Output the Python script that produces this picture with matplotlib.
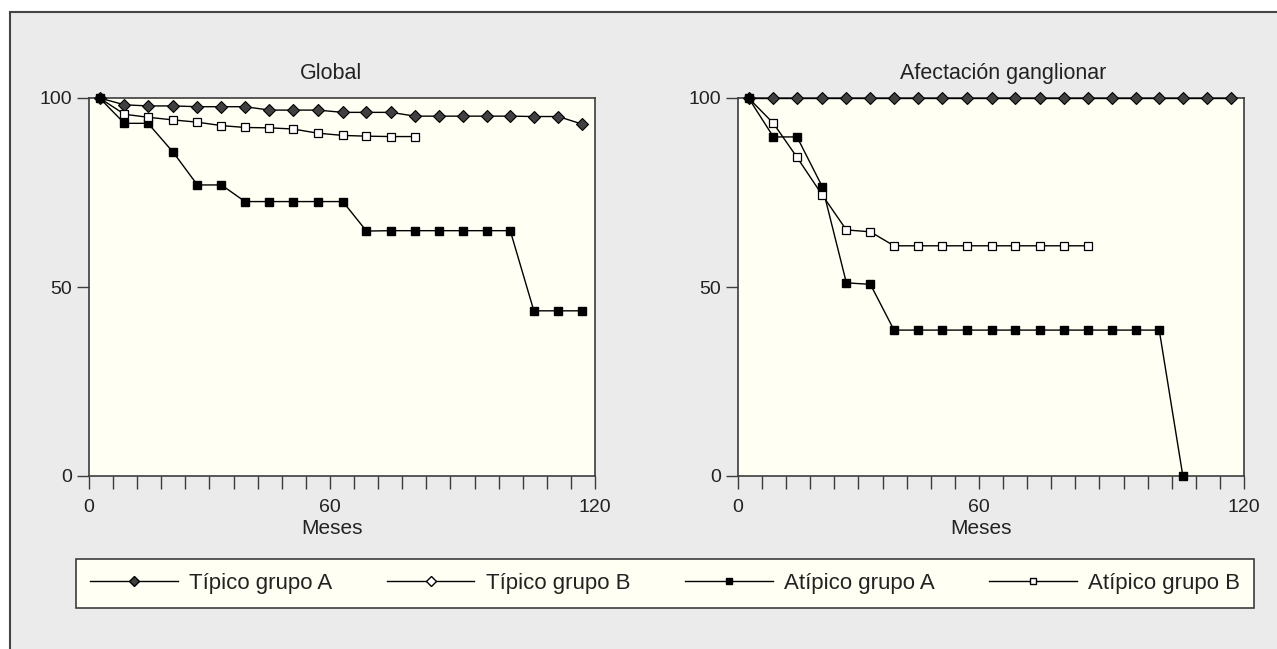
import numpy as np
import matplotlib.pyplot as plt
from matplotlib.lines import Line2D
from matplotlib.patches import Rectangle

plt.rcParams['font.family'] = ['Liberation Sans', 'DejaVu Sans']
plt.rcParams['font.size'] = 14

# meses de cada punto
meses = [2.5, 8.4, 14.0, 20.0, 25.7, 31.4, 37.0, 42.8, 48.4, 54.2, 60.2,
         65.8, 71.6, 77.3, 83.0, 88.6, 94.3, 99.9, 105.5, 111.3, 116.9]

# Global
global_tip_a = [100, 98.2, 97.9, 97.9, 97.7, 97.7, 97.7, 96.8, 96.8, 96.8, 96.2,
                96.2, 96.2, 95.2, 95.2, 95.2, 95.2, 95.2, 95.1, 95.1, 93.1]
global_tip_b = []
global_atip_a = [100, 93.3, 93.3, 85.6, 77.0, 77.0, 72.6, 72.6, 72.6, 72.6, 72.6,
                 64.8, 64.9, 64.9, 64.9, 64.9, 64.9, 64.9, 43.7, 43.7, 43.7]
global_atip_b = [100, 95.7, 94.9, 94.2, 93.6, 92.7, 92.2, 92.1, 91.8, 90.7, 90.1,
                 89.9, 89.8, 89.8]

# Afectacion ganglionar
gang_tip_a = [100, 100, 100, 100, 100, 100, 100, 100, 100, 100, 100,
              100, 100, 100, 100, 100, 100, 100, 100, 100, 100]
gang_tip_b = []
gang_atip_a = [100, 89.7, 89.7, 76.5, 51.1, 50.7, 38.6, 38.6, 38.6, 38.6, 38.6,
               38.6, 38.6, 38.6, 38.6, 38.6, 38.6, 38.6, 0]
gang_atip_b = [100, 93.3, 84.3, 74.3, 65.1, 64.6, 60.9, 60.9, 60.9, 60.9, 60.9,
               60.9, 60.9, 60.9, 60.9]

titulos = ['Global', 'Afectación ganglionar']
nombres = ['Típico grupo A', 'Típico grupo B', 'Atípico grupo A', 'Atípico grupo B']

gris_fondo = '#ebebeb'
crema = '#fffff4'
borde = '#3c3c3c'
txt = '#222222'

fig = plt.figure(figsize=(12.77, 6.49), dpi=100, facecolor='white')
fig.patches.append(Rectangle((10 / 1277, -0.1), 1.2, 1 - 12 / 649 + 0.1,
                             transform=fig.transFigure, facecolor=gris_fondo,
                             edgecolor='#444444', lw=1.5, zorder=-10))

ax1 = fig.add_axes([89 / 1277, 1 - 476 / 649, 506 / 1277, 378 / 649])
ax2 = fig.add_axes([738 / 1277, 1 - 476 / 649, 506 / 1277, 378 / 649])

estilo = dict(color='black', lw=1.0, clip_on=False)
datos = [(global_tip_a, global_tip_b, global_atip_a, global_atip_b),
         (gang_tip_a, gang_tip_b, gang_atip_a, gang_atip_b)]

for ax, titulo, (ta, tb, aa, ab), tx in zip([ax1, ax2], titulos, datos, [0.478, 0.525]):
    ax.set_facecolor(crema)
    ax.plot(meses[:len(ta)], ta, marker='D', ms=5.8, mfc='#404040', mec='black',
            mew=0.8, zorder=3, **estilo)
    ax.plot(meses[:len(tb)], tb, marker='D', ms=5.8, mfc='white', mec='black',
            mew=0.8, zorder=3, **estilo)
    ax.plot(meses[:len(aa)], aa, marker='s', ms=5.8, mfc='black', mec='black',
            zorder=4, **estilo)
    ax.plot(meses[:len(ab)], ab, marker='s', ms=5.3, mfc='white', mec='black',
            mew=0.9, markevery=slice(1, None), zorder=5, **estilo)

    ax.set_xlim(0, 120)
    ax.set_ylim(0, 100)
    paso = 120 / 21
    ax.set_xticks([0, 10 * paso, 120])
    ax.set_xticklabels(['0', '60', '120'])
    ax.set_xticks(np.arange(22) * paso, minor=True)
    ax.tick_params(axis='x', which='both', direction='out', length=9.5,
                   width=1, color=borde, pad=7, labelcolor=txt)
    ax.set_yticks([0, 50, 100])
    ax.tick_params(axis='y', direction='out', length=9, width=1, color=borde,
                   pad=3, labelcolor=txt)
    for s in ax.spines.values():
        s.set_color(borde)
        s.set_linewidth(1.2)
    ax.set_title(titulo, x=tx, pad=14, color=txt, fontsize=15.5)
    ax.set_xlabel('Meses', x=0.48, labelpad=2, color=txt, fontsize=15)

handles = [
    Line2D([], [], color='black', lw=1, marker='D', ms=5, mfc='#404040', mec='black'),
    Line2D([], [], color='black', lw=1, marker='D', ms=5, mfc='white', mec='black'),
    Line2D([], [], color='black', lw=1, marker='s', ms=5, mfc='black', mec='black'),
    Line2D([], [], color='black', lw=1, marker='s', ms=4.5, mfc='white', mec='black'),
]
leg = fig.legend(handles, nombres, ncol=4, mode='expand',
                 bbox_to_anchor=(76 / 1277, 1 - 608 / 649, (1254 - 76) / 1277, 49 / 649),
                 loc='lower left', borderaxespad=0, handlelength=3.95,
                 handletextpad=0.5, fancybox=False, framealpha=1,
                 facecolor=crema, edgecolor=borde, fontsize=16,
                 borderpad=0.62, labelcolor=txt)
leg.get_frame().set_linewidth(1.2)

fig.savefig('out.png', dpi=100, facecolor=fig.get_facecolor())
